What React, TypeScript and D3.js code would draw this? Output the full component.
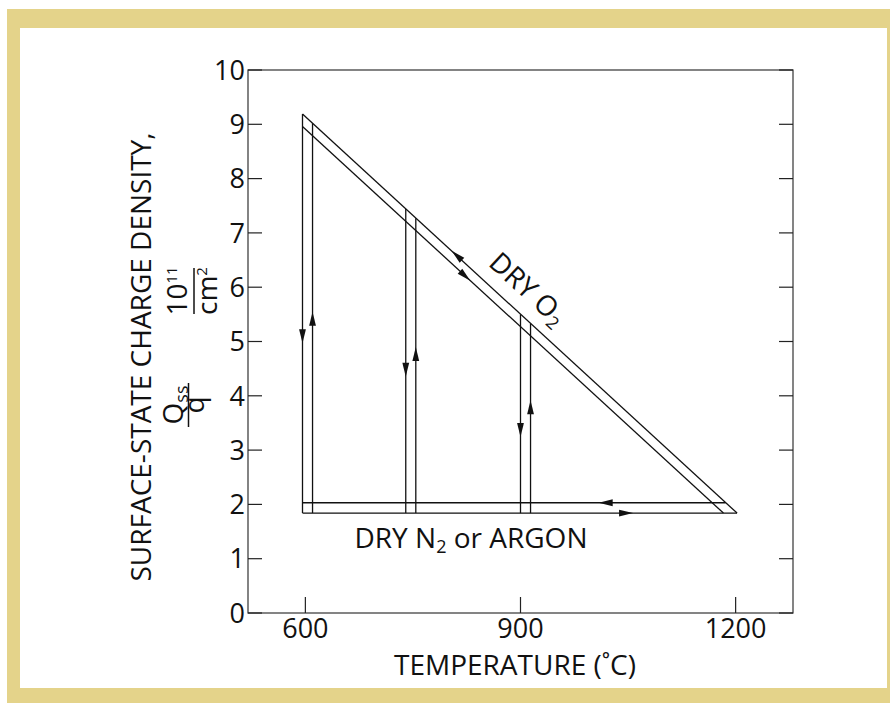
import React from "react";
import * as d3 from "d3";

// ---- data ----
const yTicks = [0, 1, 2, 3, 4, 5, 6, 7, 8, 9, 10];
const xTicks = [600, 900, 1200];

// upper (outer) dry-O2 line and the parallel inner line
const outerDiag = [
  { t: 596, v: 9.19 },
  { t: 1202, v: 1.84 },
];
const innerDiag = [
  { t: 596, v: 8.96 },
  { t: 1183, v: 1.84 },
];
// dry N2 / argon anneal lines
const upperHoriz = [
  { t: 596, v: 2.03 },
  { t: 1186, v: 2.03 },
];
const lowerHoriz = [
  { t: 596, v: 1.84 },
  { t: 1202, v: 1.84 },
];
// vertical cooling / heating legs
const verticalT = [596, 610, 740, 754, 900, 914];
const verticalTop = [9.19, 9.02, 7.44, 7.27, 5.5, 5.33];
const verticalBottom = 1.84;

// arrow heads: tip position + direction
const arrowT = [596, 610, 740, 754, 900, 914, 804, 830, 1009, 1057];
const arrowV = [4.97, 5.55, 4.35, 4.9, 3.24, 3.92, 6.67, 6.12, 2.03, 1.84];
const arrowDir = ["down", "up", "down", "up", "down", "up", "upleft", "downright", "left", "right"];

// label position (temperature along the dry O2 line)
const o2LabelT = 888;

const W = 890;
const H = 709;
const FONT = "'Open Sans', 'Noto Sans', sans-serif";
const GOLD = "#e4d38a";

export default function App() {
  const x = d3.scaleLinear().domain([520, 1280]).range([248, 793]);
  const y = d3.scaleLinear().domain([0, 10]).range([613, 70]);
  const line = d3
    .line<{ t: number; v: number }>()
    .x((d) => x(d.t))
    .y((d) => y(d.v));

  // diagonal direction in pixel space
  const dx = x(outerDiag[1].t) - x(outerDiag[0].t);
  const dy = y(outerDiag[1].v) - y(outerDiag[0].v);
  const dl = Math.hypot(dx, dy);
  const ux = dx / dl;
  const uy = dy / dl;
  const angle = (Math.atan2(dy, dx) * 180) / Math.PI;

  const dirVec: Record<string, [number, number]> = {
    down: [0, 1],
    up: [0, -1],
    left: [-1, 0],
    right: [1, 0],
    upleft: [-ux, -uy],
    downright: [ux, uy],
  };

  const arrowPath = (i: number) => {
    const tx = x(arrowT[i]);
    const ty = y(arrowV[i]);
    const [ddx, ddy] = dirVec[arrowDir[i]];
    const len = 14;
    const hw = 3.4;
    const bx = tx - ddx * len;
    const by = ty - ddy * len;
    const px = -ddy;
    const py = ddx;
    return `M${tx},${ty}L${bx + px * hw},${by + py * hw}L${bx - px * hw},${by - py * hw}Z`;
  };

  // DRY O2 label: along outer diagonal, offset to upper right
  const slope = (outerDiag[1].v - outerDiag[0].v) / (outerDiag[1].t - outerDiag[0].t);
  const lblPx = x(o2LabelT);
  const lblPy = y(outerDiag[0].v + (o2LabelT - outerDiag[0].t) * slope);
  const nx = uy; // normal pointing up-right
  const ny = -ux;
  const off = 14;
  const o2x = lblPx + nx * off;
  const o2y = lblPy + ny * off;

  const stroke = "#111";
  const sw = 1.3;

  return (
    <svg
      width={W}
      height={H}
      style={{ position: "absolute", left: 0, top: 0, background: "#fff" }}
      fontFamily={FONT}
    >
      {/* gold frame */}
      <rect x={7} y={9} width={W - 7} height={694} fill={GOLD} />
      <rect x={20} y={28} width={867} height={660} fill="#fff" />

      {/* plot box */}
      <rect
        x={x(520)}
        y={y(10)}
        width={x(1280) - x(520)}
        height={y(0) - y(10)}
        fill="none"
        stroke="#333"
        strokeWidth={1.2}
      />
      {yTicks.map((t) => (
        <g key={"yt" + t}>
          <line x1={x(520)} x2={x(520) + 14} y1={y(t)} y2={y(t)} stroke="#222" strokeWidth={1.2} />
          <line x1={x(1280)} x2={x(1280) - 14} y1={y(t)} y2={y(t)} stroke="#222" strokeWidth={1.2} />
          <text x={x(520) - 3} y={y(t)} dy="0.36em" textAnchor="end" fontSize={27} fill="#111">
            {t}
          </text>
        </g>
      ))}
      {xTicks.map((t) => (
        <g key={"xt" + t}>
          <line x1={x(t)} x2={x(t)} y1={y(0)} y2={y(0) - 16} stroke="#222" strokeWidth={1.2} />
          <text x={x(t)} y={638} textAnchor="middle" fontSize={27} fill="#111">
            {t}
          </text>
        </g>
      ))}

      {/* x axis title */}
      <text x={515} y={675} textAnchor="middle" fontSize={28} fill="#111">
        TEMPERATURE (˚C)
      </text>

      {/* y axis title */}
      <text transform="translate(151,357) rotate(-90)" textAnchor="middle" fontSize={28} fill="#111">
        SURFACE-STATE CHARGE DENSITY,
      </text>
      {/* Qss / q */}
      <g transform="translate(0,405)">
        <text transform="translate(183,0) rotate(-90)" textAnchor="middle" fontSize={28} fill="#111">
          Q<tspan fontSize={18} dy={5}>ss</tspan>
        </text>
        <line x1={188.5} x2={188.5} y1={-22} y2={22} stroke="#111" strokeWidth={1.5} />
        <text transform="translate(204,0) rotate(-90)" textAnchor="middle" fontSize={28} fill="#111">
          q
        </text>
      </g>
      {/* 10^11 / cm^2 */}
      <g transform="translate(0,291)">
        <text transform="translate(187,0) rotate(-90)" textAnchor="middle" fontSize={28} fill="#111">
          10<tspan fontSize={15} dy={-10}>11</tspan>
        </text>
        <line x1={194} x2={194} y1={-23} y2={23} stroke="#111" strokeWidth={1.5} />
        <text transform="translate(217,0) rotate(-90)" textAnchor="middle" fontSize={28} fill="#111">
          cm<tspan fontSize={15} dy={-10}>2</tspan>
        </text>
      </g>

      {/* data lines */}
      <g fill="none" stroke={stroke} strokeWidth={sw}>
        <path d={line(outerDiag) || ""} />
        <path d={line(innerDiag) || ""} />
        <path d={line(upperHoriz) || ""} />
        <path d={line(lowerHoriz) || ""} />
        {verticalT.map((t, i) => (
          <path
            key={"v" + t}
            d={line([
              { t, v: verticalTop[i] },
              { t, v: verticalBottom },
            ]) || ""}
          />
        ))}
      </g>
      <g fill={stroke}>
        {arrowT.map((_, i) => (
          <path key={"a" + i} d={arrowPath(i)} />
        ))}
      </g>

      {/* labels */}
      <text
        transform={`translate(${o2x},${o2y}) rotate(${angle})`}
        textAnchor="middle"
        fontSize={28}
        fill="#111"
      >
        DRY O<tspan fontSize={18} dy={5}>2</tspan>
      </text>
      <text x={471} y={548} textAnchor="middle" fontSize={28} fill="#111">
        DRY N<tspan fontSize={18} dy={5}>2</tspan>
        <tspan dy={-5}> or ARGON</tspan>
      </text>
    </svg>
  );
}
